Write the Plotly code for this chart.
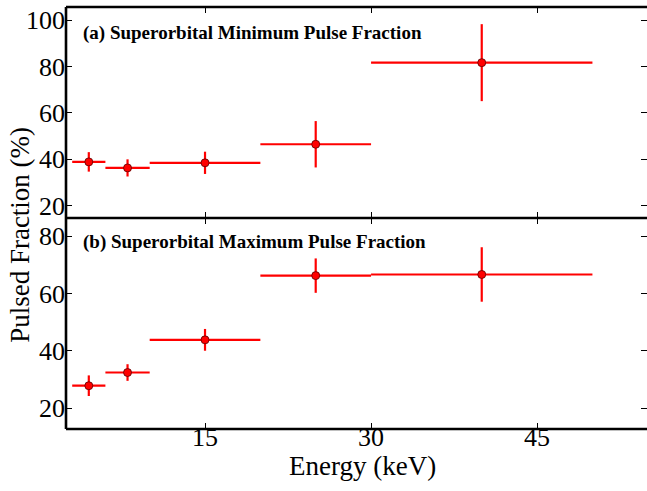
import plotly.graph_objects as go
from plotly.subplots import make_subplots

# Energy bins (keV): centres and half-widths
energy = [4.5, 8.0, 15.0, 25.0, 40.0]
energy_halfwidth = [1.5, 2.0, 5.0, 5.0, 10.0]

# (a) superorbital minimum: pulsed fraction (%) and 1-sigma errors
pf_min = [38.9, 36.3, 38.5, 46.5, 81.7]
pf_min_err = [4.2, 3.7, 4.8, 10.0, 16.6]

# (b) superorbital maximum: pulsed fraction (%) and 1-sigma errors
pf_max = [27.8, 32.4, 43.8, 66.2, 66.6]
pf_max_err = [3.6, 2.9, 3.8, 6.0, 9.5]

x_ticks = [15, 30, 45]
top_ticks = [20, 40, 60, 80, 100]
bottom_ticks = [20, 40, 60, 80]

panel_labels = ["(a) Superorbital Minimum Pulse Fraction",
                "(b) Superorbital Maximum Pulse Fraction"]

RED = "#ff0000"
FONT = "Liberation Serif"

fig = make_subplots(rows=2, cols=1, shared_xaxes=True, vertical_spacing=0)

for row, (vals, errs) in enumerate([(pf_min, pf_min_err), (pf_max, pf_max_err)], start=1):
    fig.add_trace(go.Scatter(
        x=energy, y=vals, mode="markers",
        marker=dict(color=RED, size=8, line=dict(color="#5a0000", width=0.8)),
        error_x=dict(type="data", array=energy_halfwidth, color=RED, thickness=2.2, width=0),
        error_y=dict(type="data", array=errs, color=RED, thickness=2.2, width=0),
        showlegend=False,
    ), row=row, col=1)

axis_common = dict(
    showline=False, mirror="ticks",
    ticks="inside", ticklen=6, tickwidth=1.2, tickcolor="black",
    showgrid=False, zeroline=False,
    tickfont=dict(family=FONT, size=26, color="black"),
)

fig.update_xaxes(**axis_common, range=[2.44, 54.93], tickvals=x_ticks, ticklabelstandoff=-10)
fig.update_xaxes(showticklabels=False, row=1, col=1)

fig.update_yaxes(**axis_common)
fig.update_yaxes(range=[14.7, 105.7], tickvals=top_ticks, row=1, col=1)
fig.update_yaxes(range=[12.7, 86.3], tickvals=bottom_ticks, row=2, col=1)

# frame: left spine plus top, middle and bottom rules
frame = dict(color="black", width=2.6)
fig.add_shape(type="line", xref="paper", yref="paper", x0=0, x1=0, y0=0, y1=1, line=frame)
for yy in (0, 0.5, 1):
    fig.add_shape(type="line", xref="paper", yref="paper", x0=0, x1=1, y0=yy, y1=yy, line=frame)

# panel captions
for label, yref, ypos in [(panel_labels[0], "y domain", 0.875),
                          (panel_labels[1], "y2 domain", 0.888)]:
    fig.add_annotation(text="<b>%s</b>" % label, xref="x domain", yref=yref,
                       x=0.025, y=ypos, xanchor="left", yanchor="middle",
                       showarrow=False, font=dict(family=FONT, size=19, color="black"))

# shared axis titles
fig.add_annotation(text="Pulsed Fraction (%)", xref="paper", yref="paper",
                   x=-0.0792, y=0.46, textangle=-90, xanchor="center", yanchor="middle",
                   showarrow=False, font=dict(family=FONT, size=27, color="black"))
fig.add_annotation(text="Energy (keV)", xref="paper", yref="paper",
                   x=0.510, y=-0.0877, xanchor="center", yanchor="middle",
                   showarrow=False, font=dict(family=FONT, size=27, color="black"))

fig.update_layout(
    width=647, height=491,
    margin=dict(l=66, r=0, t=7, b=62),
    plot_bgcolor="white", paper_bgcolor="white",
)

fig.write_html("out.html")
